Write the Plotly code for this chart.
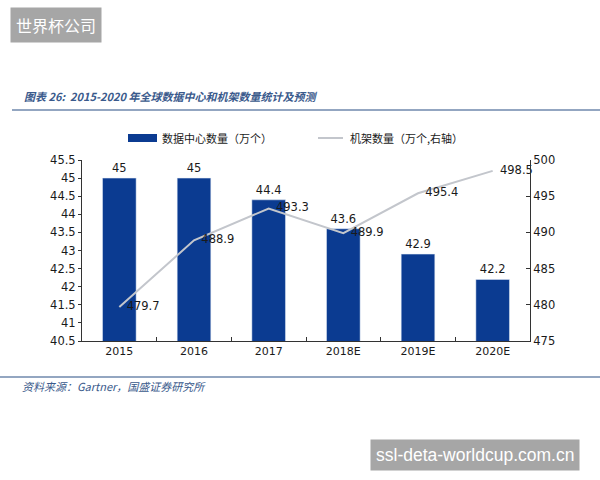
import plotly.graph_objects as go

categories = ["2015", "2016", "2017", "2018E", "2019E", "2020E"]
dc_counts = [45, 45, 44.4, 43.6, 42.9, 42.2]
rack_counts = [479.7, 488.9, 493.3, 489.9, 495.4, 498.5]
left_ticks = [40.5, 41, 41.5, 42, 42.5, 43, 43.5, 44, 44.5, 45, 45.5]
right_ticks = [475, 480, 485, 490, 495, 500]

W, H = 600, 480
ML, MR, MT, MB = 82, 70, 160, 139

def px(x):
    return (x - ML) / (W - ML - MR)

def py(y):
    return (H - MB - y) / (H - MT - MB)

BAR = "#0b3b91"
LINE = "#c3c6cc"
TXT = "#1a1a1a"
NAVY = "#3a5a8c"

fig = go.Figure()
fig.add_trace(go.Bar(
    x=categories, y=dc_counts, marker_color=BAR, name="数据中心数量（万个）",
    text=[f"{v:g}" for v in dc_counts], textposition="outside",
    textfont=dict(family="DejaVu Sans", size=11.5, color=TXT), cliponaxis=False,
    showlegend=False,
))
fig.add_trace(go.Scatter(
    x=categories, y=rack_counts, yaxis="y2", mode="lines+text",
    line=dict(color=LINE, width=2), name="机架数量（万个,右轴）",
    text=["  " + f"{v:g}" for v in rack_counts], textposition="middle right",
    textfont=dict(family="DejaVu Sans", size=11.5, color=TXT), cliponaxis=False,
    showlegend=False,
))

fig.update_layout(
    width=W, height=H, margin=dict(l=ML, r=MR, t=MT, b=MB),
    paper_bgcolor="white", plot_bgcolor="white",
    bargap=0.55,
    font=dict(family="DejaVu Sans", size=11, color=TXT),
    xaxis=dict(showline=True, linecolor="#333", linewidth=1, ticks="inside",
               tickson="boundaries", ticklen=4, tickcolor="#333",
               tickfont=dict(size=11), showgrid=False),
    yaxis=dict(range=[40.5, 45.5], tickvals=left_ticks, ticktext=[f"{v:g}" for v in left_ticks],
               showline=True, linecolor="#333", linewidth=1, ticks="outside", ticklen=3,
               tickcolor="#333", showgrid=False, zeroline=False, tickfont=dict(size=11.5)),
    yaxis2=dict(range=[475, 500], tickvals=right_ticks, overlaying="y", side="right",
                showline=True, linecolor="#333", linewidth=1, ticks="inside", ticklen=4,
                tickcolor="#333", showgrid=False, zeroline=False, tickfont=dict(size=11.5)),
)

shapes = [
    dict(type="line", xref="paper", yref="paper", x0=px(12), x1=px(600), y0=py(110), y1=py(110),
         line=dict(color="#6f88ad", width=1.5)),
    dict(type="line", xref="paper", yref="paper", x0=px(0), x1=px(600), y0=py(377), y1=py(377),
         line=dict(color="#6f88ad", width=1.5)),
    dict(type="rect", xref="paper", yref="paper", x0=px(128), x1=px(157), y0=py(134), y1=py(142),
         fillcolor=BAR, line=dict(width=0)),
    dict(type="line", xref="paper", yref="paper", x0=px(318), x1=px(343), y0=py(138), y1=py(138),
         line=dict(color=LINE, width=2)),
]
fig.update_layout(shapes=shapes)

ann = [
    dict(text="<b><i>图表 26:  2015-2020 年全球数据中心和机架数量统计及预测</i></b>", x=px(22), y=py(96),
         font=dict(family="Noto Sans CJK SC", size=11, color=NAVY), xanchor="left"),
    dict(text="数据中心数量（万个）", x=px(160), y=py(138),
         font=dict(family="Noto Sans CJK SC", size=11, color=TXT), xanchor="left"),
    dict(text="机架数量（万个,右轴）", x=px(348), y=py(138),
         font=dict(family="Noto Sans CJK SC", size=11, color=TXT), xanchor="left"),
    dict(text="<i>资料来源：Gartner，国盛证券研究所</i>", x=px(20), y=py(386),
         font=dict(family="Noto Sans CJK SC", size=11, color=NAVY), xanchor="left"),
    dict(text="世界杯公司", x=px(10), y=py(25), xanchor="left",
         font=dict(family="Noto Sans CJK SC", size=16, color="white"),
         bgcolor="#a6a6a6", borderpad=5),
    dict(text="ssl-deta-worldcup.com.cn", x=px(370), y=py(455), xanchor="left",
         font=dict(family="Liberation Sans", size=17.5, color="white"),
         bgcolor="#a6a6a6", borderpad=5),
]
for a in ann:
    a.update(xref="paper", yref="paper", yanchor="middle", showarrow=False)
fig.update_layout(annotations=ann)

fig.write_html("out.html")
